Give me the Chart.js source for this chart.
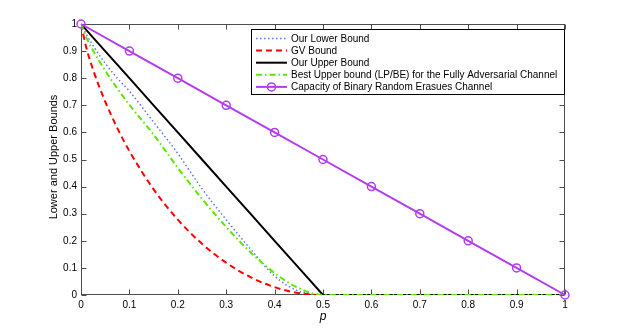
<!DOCTYPE html>
<html>
<head>
<meta charset="utf-8">
<script src="https://cdn.jsdelivr.net/npm/chart.js@4.4.1/dist/chart.umd.min.js"></script>
<style>
  html, body { margin: 0; padding: 0; background: #fff; }
</style>
</head>
<body>
<canvas id="chart" width="623" height="331"></canvas>
<script>
const pGrid = [0, 0.01, 0.025, 0.05, 0.075, 0.1, 0.15, 0.2, 0.25, 0.3, 0.35, 0.4, 0.45, 0.5, 0.6, 0.7, 0.8, 0.9, 1];
const ourLower = [1, 0.965, 0.92, 0.855, 0.8, 0.752, 0.638, 0.522, 0.392, 0.278, 0.17, 0.07, 0.014, 0, 0, 0, 0, 0, 0];
const gvBound = [1, 0.919, 0.831, 0.714, 0.616, 0.531, 0.39, 0.278, 0.189, 0.119, 0.066, 0.029, 0.007, 0, 0, 0, 0, 0, 0];
const ourUpper = [1, 0.98, 0.95, 0.9, 0.85, 0.8, 0.7, 0.6, 0.5, 0.4, 0.3, 0.2, 0.1, 0, 0, 0, 0, 0, 0];
const lpBe = [1, 0.954, 0.902, 0.828, 0.762, 0.702, 0.592, 0.469, 0.355, 0.251, 0.158, 0.081, 0.025, 0, 0, 0, 0, 0, 0];
// capacity curve, sampled with markers
const capP = [0, 0.1, 0.2, 0.3, 0.4, 0.5, 0.6, 0.7, 0.8, 0.9, 1];
const capacity = [1, 0.9, 0.8, 0.7, 0.6, 0.5, 0.4, 0.3, 0.2, 0.1, 0];

const tickValues = [0, 0.1, 0.2, 0.3, 0.4, 0.5, 0.6, 0.7, 0.8, 0.9, 1];
const tickLabels = ['0', '0.1', '0.2', '0.3', '0.4', '0.5', '0.6', '0.7', '0.8', '0.9', '1'];

const FONT = '"Liberation Sans", Helvetica, Arial, sans-serif';
const axisColor = '#4d4d4d';
const purple = '#b43cf0';

const pts = (xs, ys) => xs.map((x, i) => ({ x: x, y: ys[i] }));

const datasets = [
  {
    label: 'Our Lower Bound',
    data: pts(pGrid, ourLower),
    borderColor: '#5a78f0',
    borderWidth: 1.5,
    borderDash: [1.5, 2.5],
    cubicInterpolationMode: 'monotone',
    pointRadius: 0,
    order: 5
  },
  {
    label: 'GV Bound',
    data: pts(pGrid, gvBound),
    borderColor: '#ff0000',
    borderWidth: 2,
    borderDash: [6, 4],
    cubicInterpolationMode: 'monotone',
    pointRadius: 0,
    order: 4
  },
  {
    label: 'Our Upper Bound',
    data: pts(pGrid, ourUpper),
    borderColor: '#000000',
    borderWidth: 2,
    pointRadius: 0,
    order: 3
  },
  {
    label: 'Best Upper bound (LP/BE) for the Fully Adversarial Channel',
    data: pts(pGrid, lpBe),
    borderColor: '#5ce600',
    borderWidth: 2,
    borderDash: [6, 3, 1.5, 3],
    cubicInterpolationMode: 'monotone',
    pointRadius: 0,
    order: 2
  },
  {
    label: 'Capacity of Binary Random Erasues Channel',
    data: pts(capP, capacity),
    borderColor: purple,
    borderWidth: 2,
    pointRadius: 4,
    pointBorderWidth: 1.5,
    pointBorderColor: purple,
    pointBackgroundColor: 'rgba(0,0,0,0)',
    clip: false,
    order: 1
  }
];

// MATLAB-like box with inward ticks, drawn under the data
const matlabBox = {
  id: 'matlabBox',
  beforeDatasetsDraw(chart) {
    const { ctx, chartArea: a, scales } = chart;
    const L = Math.round(a.left) + 0.5, R = Math.round(a.right) - 0.5;
    const T = Math.round(a.top) + 0.5, B = Math.round(a.bottom) - 0.5;
    ctx.save();
    ctx.strokeStyle = axisColor;
    ctx.lineWidth = 1;
    ctx.strokeRect(L, T, R - L, B - T);
    ctx.beginPath();
    tickValues.forEach(v => {
      const px = Math.round(scales.x.getPixelForValue(v)) + 0.5;
      ctx.moveTo(px, B); ctx.lineTo(px, B - 5);
      ctx.moveTo(px, T); ctx.lineTo(px, T + 5);
      const py = Math.round(scales.y.getPixelForValue(v)) + 0.5;
      ctx.moveTo(L, py); ctx.lineTo(L + 5, py);
      ctx.moveTo(R, py); ctx.lineTo(R - 5, py);
    });
    ctx.stroke();

    // axis titles
    ctx.fillStyle = '#000';
    ctx.textAlign = 'center';
    ctx.textBaseline = 'middle';
    ctx.font = 'italic 12px ' + FONT;
    ctx.fillText('p', (a.left + a.right) / 2, 317);
    ctx.translate(54, 157);
    ctx.rotate(-Math.PI / 2);
    ctx.font = '11px ' + FONT;
    ctx.fillText('Lower and Upper Bounds', 0, 0);
    ctx.restore();
  }
};

// legend box in the top right corner, on top of the data
const matlabLegend = {
  id: 'matlabLegend',
  afterDatasetsDraw(chart) {
    const { ctx, chartArea: a } = chart;
    const bx = 251.5, by = 29.5, bw = Math.round(a.right) - 0.5 - bx, bh = 65;
    ctx.save();
    ctx.fillStyle = '#fff';
    ctx.fillRect(bx, by, bw, bh);
    ctx.strokeStyle = '#000';
    ctx.lineWidth = 1;
    ctx.strokeRect(bx, by, bw, bh);
    ctx.font = '10px ' + FONT;
    ctx.textAlign = 'left';
    ctx.textBaseline = 'middle';
    datasets.forEach((d, i) => {
      const yy = 38.5 + i * 12.1;
      ctx.save();
      ctx.strokeStyle = d.borderColor;
      ctx.lineWidth = d.borderWidth;
      ctx.setLineDash(d.borderDash || []);
      ctx.beginPath();
      ctx.moveTo(256, yy); ctx.lineTo(287, yy);
      ctx.stroke();
      if (d.pointRadius) {
        ctx.setLineDash([]);
        ctx.lineWidth = d.pointBorderWidth;
        ctx.beginPath();
        ctx.arc(271.5, yy, d.pointRadius, 0, Math.PI * 2);
        ctx.stroke();
      }
      ctx.restore();
      ctx.fillStyle = '#000';
      ctx.fillText(d.label, 291, yy + 0.5);
    });
    ctx.restore();
  }
};

new Chart(document.getElementById('chart'), {
  type: 'line',
  data: { datasets: datasets },
  options: {
    responsive: false,
    devicePixelRatio: 1,
    animation: false,
    layout: { padding: { left: 0, right: 58, top: 24, bottom: 0 } },
    plugins: { legend: { display: false }, tooltip: { enabled: false } },
    scales: {
      x: {
        type: 'linear',
        min: 0,
        max: 1,
        afterFit: s => { s.height = 36; },
        afterBuildTicks: s => { s.ticks = tickValues.map(v => ({ value: v })); },
        grid: { display: false, drawTicks: false },
        border: { display: false },
        ticks: {
          padding: 4,
          color: '#000',
          font: { family: FONT, size: 10 },
          maxRotation: 0,
          callback: (v, i) => tickLabels[i]
        }
      },
      y: {
        type: 'linear',
        min: 0,
        max: 1,
        afterFit: s => { s.width = 81; },
        afterBuildTicks: s => { s.ticks = tickValues.map(v => ({ value: v })); },
        grid: { display: false, drawTicks: false },
        border: { display: false },
        ticks: {
          padding: 4,
          color: '#000',
          font: { family: FONT, size: 10 },
          callback: (v, i) => tickLabels[i]
        }
      }
    }
  },
  plugins: [matlabBox, matlabLegend]
});
</script>
</body>
</html>
